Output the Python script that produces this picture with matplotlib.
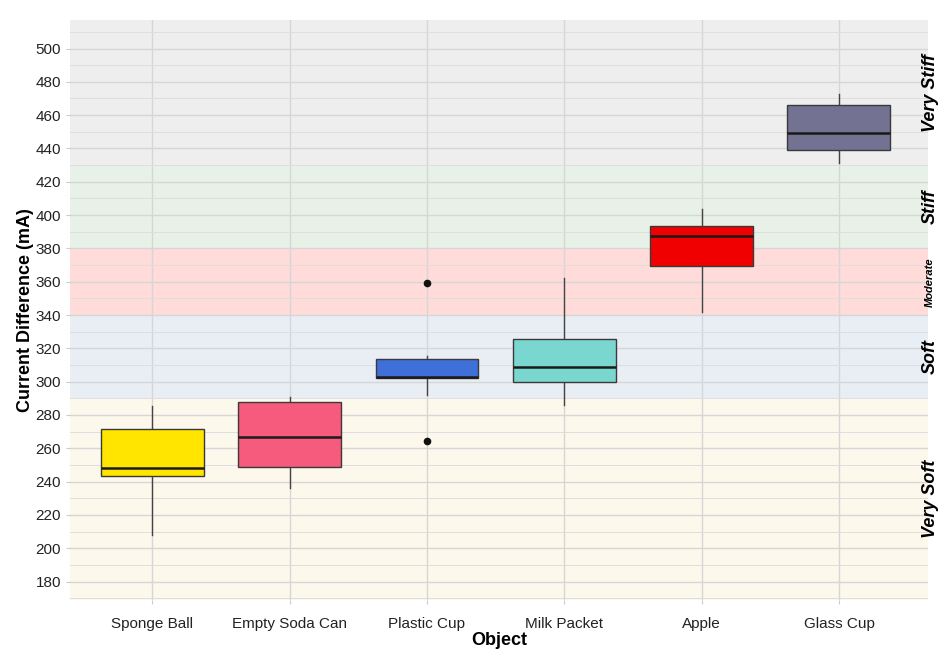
import matplotlib.pyplot as plt
import numpy as np

plt.rcParams['font.family'] = ['Liberation Sans', 'DejaVu Sans']

# box statistics (mA)
objects = ["Sponge Ball", "Empty Soda Can", "Plastic Cup", "Milk Packet", "Apple", "Glass Cup"]
whisker_low = [208, 236, 292, 286, 342, 431]
q1 = [243.5, 249, 302.3, 299.5, 369.5, 439]
median = [248, 266.5, 303, 308.5, 387.5, 449.5]
q3 = [271.5, 287.5, 313.5, 325.5, 393.5, 466]
whisker_high = [285.5, 290.5, 315.5, 362.5, 403.5, 472.5]
outliers = [[], [], [359, 264.5], [], [], []]
box_colors = ["#FFE500", "#F65B7D", "#3F6FD9", "#7AD7CF", "#F00000", "#737293"]

# stiffness bands
band_names = ["Very Soft", "Soft", "Moderate", "Stiff", "Very Stiff"]
band_low = [169, 290, 340, 380, 430]
band_high = [290, 340, 380, 430, 517]
band_colors = ["#FDF8EC", "#E9EDF4", "#FFDCDA", "#E7F1E7", "#EEEEEE"]
band_sizes = [13, 13, 8, 13, 13]

fig = plt.figure(figsize=(9.52, 6.52), dpi=100)
ax = fig.add_axes([0.0735, 0.080, 0.9015, 0.889])

for lo, hi, c in zip(band_low, band_high, band_colors):
    ax.axhspan(lo, hi, color=c, zorder=0, lw=0)

stats = []
for i in range(len(objects)):
    stats.append({"whislo": whisker_low[i], "q1": q1[i], "med": median[i],
                  "q3": q3[i], "whishi": whisker_high[i], "fliers": outliers[i]})

pos = np.arange(1, len(objects) + 1)
bp = ax.bxp(stats, positions=pos, widths=0.75, patch_artist=True, showcaps=False,
            boxprops=dict(edgecolor="#3a3a3a", linewidth=1.0),
            medianprops=dict(color="#1a1a1a", linewidth=1.8),
            whiskerprops=dict(color="#444444", linewidth=1.0),
            flierprops=dict(marker="o", markerfacecolor="#111111", markeredgecolor="#111111",
                            markersize=4.5))
for patch, c in zip(bp["boxes"], box_colors):
    patch.set_facecolor(c)
    patch.set_zorder(3)
for m in bp["medians"]:
    m.set_zorder(4)
for w in bp["whiskers"]:
    w.set_zorder(2)

for name, lo, hi, s in zip(band_names, band_low, band_high, band_sizes):
    ax.text(6.665, (lo + hi) / 2, name, rotation=90, ha="center", va="center",
            fontsize=s, fontweight="bold", fontstyle="italic", clip_on=False)

ax.set_xlim(0.4, 6.65)
ax.set_ylim(169, 517)
ax.set_xticks(pos)
ax.set_xticklabels(objects, fontsize=11, color="#222222")
ax.set_yticks(np.arange(180, 501, 20))
ax.set_yticks(np.arange(170, 511, 10), minor=True)
ax.tick_params(axis="y", labelsize=11, labelcolor="#222222")
ax.tick_params(axis="x", pad=9)
ax.tick_params(which="both", color="#cccccc", length=3)
ax.tick_params(which="minor", length=0)
ax.set_axisbelow(True)
ax.grid(which="major", color="#d6d6d6", linewidth=1.0)
ax.grid(which="minor", axis="y", color="#dedede", linewidth=0.7)
for sp in ax.spines.values():
    sp.set_visible(False)

ax.set_xlabel("Object", fontsize=13, fontweight="bold", labelpad=1)
ax.set_ylabel("Current Difference (mA)", fontsize=13, fontweight="bold")
ax.yaxis.set_label_coords(-0.042, 0.5)

fig.savefig("out.png", dpi=100)
